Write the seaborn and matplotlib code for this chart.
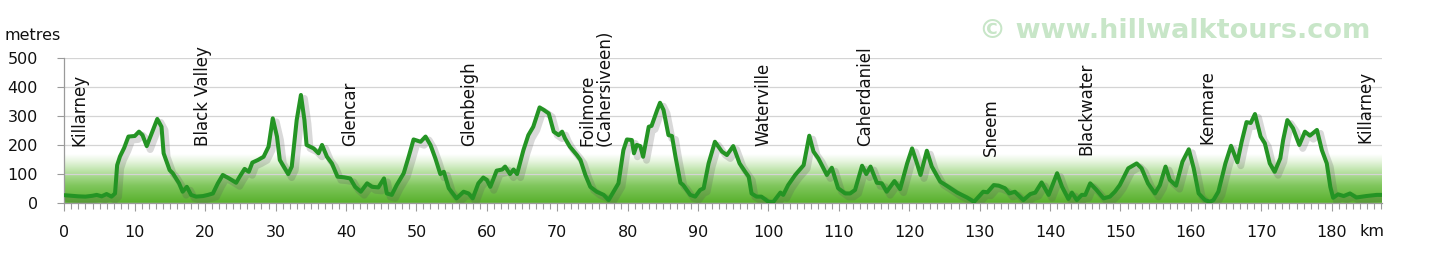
import numpy as np
import pandas as pd
import matplotlib
matplotlib.use("Agg")
import matplotlib.pyplot as plt
import matplotlib.patheffects as pe
from matplotlib.colors import LinearSegmentedColormap
from matplotlib.ticker import MultipleLocator
import seaborn as sns

# ---------------- data ----------------
km = [0.0, 1.0, 2.0, 3.0, 4.0, 4.6, 5.3, 6.0, 6.7, 7.2, 7.5, 7.9, 8.5, 9.1, 10.0, 10.6, 11.1, 11.7,
      12.4, 13.2, 13.8, 14.1, 14.95, 15.4, 16.3, 16.8, 17.4, 18.0, 18.7, 19.7, 20.4, 21.1, 21.8,
      22.5, 23.4, 24.4, 24.9, 25.6, 26.2, 26.7, 27.5, 28.3, 29.0, 29.6, 30.2, 30.6, 31.8, 32.3,
      33.0, 33.6, 34.1, 34.4, 35.4, 36.1, 36.6, 37.3, 38.0, 38.8, 39.7, 40.6, 41.3, 42.1, 43.0,
      43.7, 44.6, 45.4, 45.8, 46.5, 47.2, 48.2, 48.9, 49.6, 50.6, 51.3, 52.0, 52.7, 53.4, 53.9,
      54.6, 55.7, 56.7, 57.4, 58.0, 58.8, 59.5, 60.0, 60.5, 61.4, 62.2, 62.6, 63.3, 63.8, 64.3,
      65.2, 65.9, 66.6, 67.5, 68.1, 68.8, 69.5, 70.2, 70.7, 71.1, 71.8, 72.8, 73.3, 74.0, 74.7,
      75.6, 76.6, 77.3, 78.0, 78.7, 79.4, 79.9, 80.6, 80.9, 81.3, 81.8, 82.2, 83.0, 83.4, 84.2,
      84.6, 85.1, 85.8, 86.3, 86.8, 87.5, 87.9, 88.9, 89.6, 90.3, 90.8, 91.5, 92.4, 93.4, 94.1,
      95.0, 95.9, 96.7, 97.2, 97.6, 98.3, 99.0, 100.0, 100.7, 101.7, 102.1, 102.8, 103.8, 105.0,
      105.8, 106.4, 107.1, 108.3, 109.0, 109.9, 110.9, 111.6, 112.3, 113.3, 113.9, 114.5, 115.4,
      116.1, 116.8, 117.9, 118.7, 119.7, 120.4, 121.1, 121.6, 122.5, 123.2, 124.4, 125.3, 126.8,
      128.2, 129.2, 130.1, 130.5, 131.1, 132.0, 132.7, 133.6, 134.2, 135.0, 136.2, 137.2, 137.9,
      138.8, 139.8, 141.0, 141.7, 142.6, 143.1, 143.8, 144.5, 145.0, 145.7, 146.6, 147.6, 148.5,
      149.2, 149.9, 151.1, 152.3, 153.0, 153.9, 154.9, 155.6, 156.4, 157.0, 157.9, 158.8, 159.7,
      160.4, 161.1, 162.0, 162.7, 163.2, 163.9, 164.9, 165.7, 166.6, 167.2, 167.9, 168.5, 169.1,
      169.9, 170.5, 171.2, 171.9, 172.7, 173.1, 173.7, 174.5, 175.4, 176.2, 176.9, 177.9, 178.6,
      179.3, 179.8, 180.2, 180.9, 181.7, 182.6, 183.5, 184.9, 186.4, 187.1]
elev = [26, 24, 22, 21, 24, 27, 22, 30, 21, 32, 130, 160, 190, 229, 231, 246, 234, 196,
        240, 290, 263, 171, 113, 102, 67, 38, 55, 27, 21, 23, 27, 32, 67,
        96, 84, 69, 90, 117, 107, 139, 148, 159, 194, 292, 229, 148, 99, 125,
        286, 373, 286, 200, 188, 171, 200, 159, 136, 90, 88, 84, 55, 38, 67,
        55, 53, 84, 32, 27, 61, 102, 159, 219, 211, 229, 200, 153, 99, 107,
        50, 15, 38, 32, 15, 67, 87, 79, 55, 111, 115, 125, 99, 115, 99,
        182, 234, 263, 330, 321, 309, 246, 234, 246, 223, 194, 165, 148, 96, 55,
        38, 27, 9, 38, 67, 182, 219, 217, 171, 200, 196, 159, 263, 266, 321,
        346, 321, 234, 231, 159, 69, 61, 27, 21, 44, 50, 136, 211, 177, 165,
        196, 136, 107, 90, 32, 21, 21, 3, 3, 35, 27, 61, 96, 130,
        232, 177, 153, 96, 121, 50, 32, 32, 44, 128, 99, 125, 69,
        67, 38, 75, 47, 136, 188, 136, 96, 180, 125, 73, 59, 35,
        18, 3, 27, 38, 36, 61, 59, 50, 32, 38, 9, 30, 35,
        70, 27, 102, 55, 13, 35, 9, 27, 27, 67, 44, 15, 21,
        38, 61, 119, 136, 119, 67, 32, 61, 125, 79, 59, 142, 185,
        119, 32, 9, 3, 9, 38, 136, 197, 140, 210, 279, 276, 307,
        229, 206, 136, 107, 154, 217, 286, 258, 200, 246, 232, 252, 182,
        136, 55, 17, 29, 23, 32, 18, 23, 27, 27]

place_names = ["Killarney", "Black Valley", "Glencar", "Glenbeigh", "Foilmore\n(Cahersiveen)",
               "Waterville", "Caherdaniel", "Sneem", "Blackwater", "Kenmare", "Killarney"]
place_km = [2.1, 19.7, 40.6, 57.5, 75.5, 99.3, 113.7, 131.6, 145.1, 162.3, 184.8]
place_base = [196, 196, 196, 196, 196, 196, 196, 160, 165, 203, 205]

y_ticks = [0, 100, 200, 300, 400, 500]
x_ticks = list(range(0, 181, 10))

df = pd.DataFrame({"km": km, "elev": elev})

# ---------------- figure ----------------
sns.set_theme(style="white")
plt.rcParams["font.family"] = ["DejaVu Sans"]

fig = plt.figure(figsize=(14.33, 2.56), dpi=100)
ax = fig.add_axes([0.0449, 0.2082, 0.9193, 0.5641])

xmax = 187.1
ax.set_xlim(0, xmax)
ax.set_ylim(0, 500)

# gradient band
cmap = LinearSegmentedColormap.from_list(
    "band", [(0.0, "#58b02c"), (0.35, "#7fc65c"), (0.62, "#b4df9e"), (0.85, "#e6f5de"), (1.0, "#ffffff")])
grad = np.linspace(0, 1, 256).reshape(-1, 1)
ax.imshow(grad, extent=(0, xmax, 0, 168), origin="lower", aspect="auto", cmap=cmap, zorder=0)

ax.set_axisbelow(True)
ax.yaxis.grid(True, color="#d4d4d4", linewidth=0.9, zorder=0.6)
ax.xaxis.grid(False)

sns.lineplot(data=df, x="km", y="elev", ax=ax, color="#249424", linewidth=2.9,
             sort=False, estimator=None, zorder=3,
             path_effects=[pe.SimpleLineShadow(offset=(2.5, -2.5), shadow_color="#555555", alpha=0.22, linewidth=5),
                           pe.Normal()])

ax.set_xlabel("")
ax.set_ylabel("")
ax.set_xticks(x_ticks)
ax.set_yticks(y_ticks)
ax.xaxis.set_minor_locator(MultipleLocator(1))
ax.tick_params(axis="x", which="major", direction="out", length=6, width=0.8, color="#9a9a9a",
               labelsize=11.5, labelcolor="#111111", pad=10)
ax.tick_params(axis="x", which="minor", direction="out", length=4, width=0.8, color="#9a9a9a")
ax.tick_params(axis="y", which="major", direction="out", length=5, width=0.8, color="#9a9a9a",
               labelsize=11.5, labelcolor="#111111", pad=14)
ax.tick_params(bottom=True, left=True, which="both")

for s in ["top", "right"]:
    ax.spines[s].set_visible(False)
for s in ["left", "bottom"]:
    ax.spines[s].set_color("#9a9a9a")
    ax.spines[s].set_linewidth(0.9)

for name, xk, yb in zip(place_names, place_km, place_base):
    ax.text(xk, yb, name, rotation=90, ha="center", va="bottom", multialignment="left",
            fontsize=12, color="#111111", clip_on=False, zorder=4, linespacing=1.0)

fig.text(5 / 1433, 1 - 35 / 256, "metres", ha="left", va="center", fontsize=11.5, color="#111111")
fig.text(1372 / 1433, 1 - 231 / 256, "km", ha="center", va="center", fontsize=11.5, color="#111111")
fig.text(1370 / 1433, 1 - 31 / 256, "\u00a9 www.hillwalktours.com", ha="right", va="center",
         fontsize=19.5, fontweight="bold", color="#c8e6c8")

fig.savefig("out.png", dpi=100)
